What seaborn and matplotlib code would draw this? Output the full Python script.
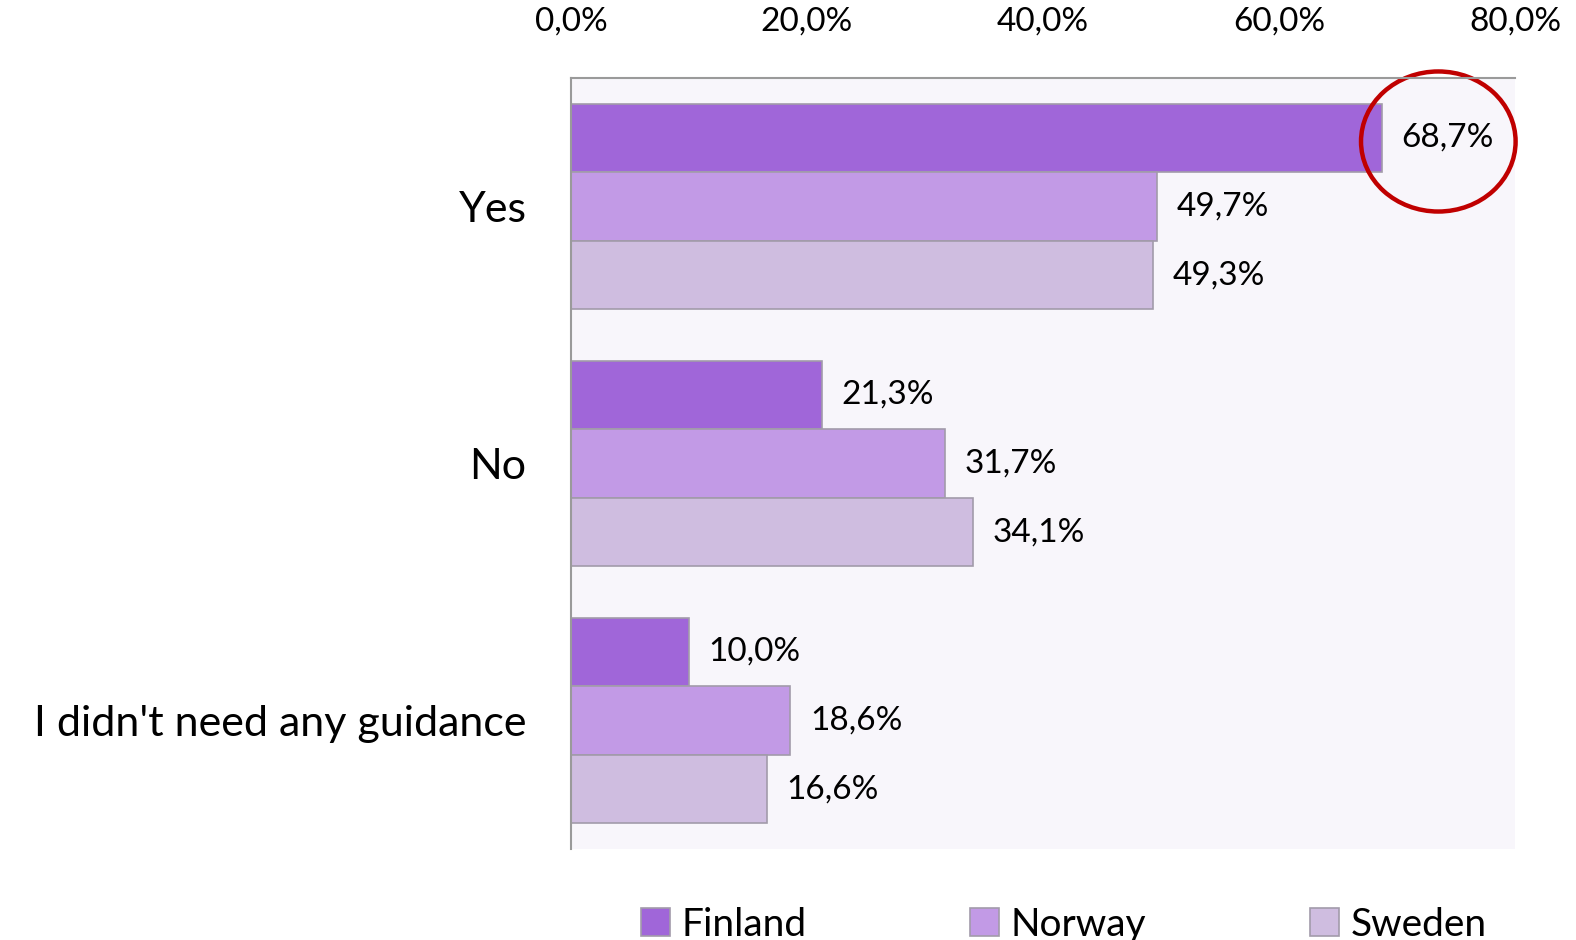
import pandas as pd
import matplotlib.pyplot as plt
import seaborn as sns
from matplotlib.patches import Ellipse, Patch

answers = ["Yes", "No", "I didn't need any guidance"]
countries = ["Finland", "Norway", "Sweden"]
finland = [68.7, 21.3, 10.0]
norway = [49.7, 31.7, 18.6]
sweden = [49.3, 34.1, 16.6]

colors = ["#A066D9", "#C29AE6", "#CFBDE0"]

df = pd.DataFrame({
    "answer": answers * 3,
    "country": ["Finland"] * 3 + ["Norway"] * 3 + ["Sweden"] * 3,
    "pct": finland + norway + sweden,
})

sns.set_style("white")
plt.rcParams["font.family"] = ["Lato", "DejaVu Sans"]
plt.rcParams["text.color"] = "black"
plt.rcParams["xtick.color"] = "black"
plt.rcParams["ytick.color"] = "black"

fig = plt.figure(figsize=(15.76, 9.4), dpi=100)
ax = fig.add_axes([0.3623, 0.0968, 0.599, 0.8202])
ax.set_facecolor("#F8F6FB")

sns.barplot(data=df, y="answer", x="pct", hue="country", order=answers,
            hue_order=countries, palette=colors, orient="h", width=0.8,
            edgecolor="#A29BAA", linewidth=1.2, saturation=1, legend=False, ax=ax)

for cont in ax.containers:
    labs = [f"{v:.1f}%".replace(".", ",") for v in cont.datavalues]
    ax.bar_label(cont, labels=labs, padding=14, fontsize=24, color="black")

ax.set_xlim(0, 80)
ax.xaxis.tick_top()
ax.set_xticks([0, 20, 40, 60, 80])
ax.set_xticklabels([f"{t:.1f}%".replace(".", ",") for t in [0, 20, 40, 60, 80]], fontsize=24)
ax.tick_params(axis="x", length=0, pad=30)
ax.tick_params(axis="y", length=0, pad=32, labelsize=31)
ax.set_xlabel("")
ax.set_ylabel("")

for s in ["right", "bottom"]:
    ax.spines[s].set_visible(False)
for s in ["left", "top"]:
    ax.spines[s].set_color("#9A9A9A")
    ax.spines[s].set_linewidth(1.5)

# red highlight around Finland "Yes"
ax.add_patch(Ellipse((73.5, -0.253), 13.1, 0.545, fill=False,
                     edgecolor="#C00000", linewidth=3.2, clip_on=False))

handles = [Patch(facecolor=c, edgecolor="#A29BAA", linewidth=1.2) for c in colors]
fig.legend(handles, countries, loc="lower center", bbox_to_anchor=(0.675, -0.04),
           ncol=3, frameon=False, fontsize=28, columnspacing=4.2,
           handlelength=0.75, handleheight=0.75, handletextpad=0.3)

fig.savefig("out.png", dpi=100)
